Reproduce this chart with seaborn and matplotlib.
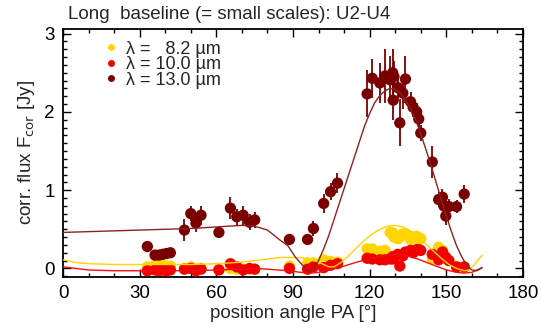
import matplotlib
matplotlib.use("Agg")
import matplotlib.pyplot as plt
from matplotlib.lines import Line2D
from matplotlib.ticker import MultipleLocator
import pandas as pd
import seaborn as sns

# measured position angles [deg]
pa = [33, 36, 37.5, 39, 40.5, 42, 47.5, 50, 52, 54, 61, 65.5, 68, 70.5, 73, 75,
      88.6, 95.7, 98, 102, 104.7, 107.4, 119, 121, 124, 126, 128, 129, 129.5,
      129.2, 131, 131.8, 133, 134, 136, 137, 138.4, 139.2, 140, 144.5, 147,
      148.5, 149, 149.8, 151, 154, 157]

# correlated fluxes [Jy]
f_082 = [0.02, 0.04, 0.05, 0.04, 0.03, 0.03, 0.00, 0.02, -0.01, 0.00, -0.01,
         0.00, -0.01, -0.01, -0.01, -0.01, 0.03, 0.07, 0.07, 0.11, 0.09, 0.08,
         0.25, 0.25, 0.22, 0.23, 0.46, 0.45, 0.40, 0.45, 0.38, 0.40, 0.44, 0.44,
         0.37, 0.40, 0.41, 0.37, 0.38, 0.12, 0.27, 0.23, 0.18, 0.12, 0.10, 0.02,
         0.01]
f_100 = [-0.03, -0.02, -0.03, -0.02, -0.03, -0.02, -0.01, 0.00, -0.03, -0.01,
         -0.02, 0.06, 0.02, -0.02, 0.00, -0.01, 0.00, -0.01, 0.02, 0.01, 0.04,
         0.06, 0.13, 0.12, 0.11, 0.11, 0.12, 0.15, 0.14, 0.12, 0.18, 0.03, 0.16,
         0.21, 0.23, 0.20, 0.24, 0.24, 0.23, 0.18, 0.11, 0.21, 0.16, 0.14, 0.10,
         0.02, 0.02]
f_130 = [0.28, 0.17, 0.17, 0.18, 0.19, 0.20, 0.49, 0.70, 0.58, 0.68, 0.46, 0.77,
         0.66, 0.68, 0.59, 0.62, 0.37, 0.37, 0.51, 0.83, 0.98, 1.09, 2.23, 2.43,
         2.37, 2.46, 2.41, 2.50, 2.45, 2.15, 2.31, 1.86, 2.24, 2.42, 2.13, 2.06,
         2.00, 1.91, 1.73, 1.36, 0.88, 0.91, 0.80, 0.67, 0.79, 0.79, 0.95]
e_130 = [0.03, 0.03, 0.03, 0.03, 0.03, 0.03, 0.14, 0.10, 0.12, 0.12, 0.07, 0.14,
         0.10, 0.12, 0.10, 0.10, 0.06, 0.06, 0.10, 0.12, 0.11, 0.13, 0.30, 0.25,
         0.25, 0.35, 0.30, 0.30, 0.20, 0.25, 0.15, 0.30, 0.20, 0.30, 0.12, 0.12,
         0.12, 0.12, 0.10, 0.20, 0.10, 0.10, 0.10, 0.12, 0.10, 0.08, 0.12]

# model curves
pa_mod_130 = [0, 10, 20, 30, 40, 50, 60, 70, 75, 80, 85, 88, 91, 94, 96, 98,
              100, 102, 104, 106, 108, 110, 112, 114, 116, 118, 120, 122, 124,
              126, 128, 130, 132, 134, 136, 138, 140, 142, 144, 146, 148, 150,
              152, 154, 156, 158, 160, 162, 164]
mod_130 = [0.46, 0.47, 0.48, 0.49, 0.50, 0.51, 0.53, 0.55, 0.54, 0.49, 0.36,
           0.29, 0.14, 0.03, -0.04, 0.00, 0.10, 0.25, 0.42, 0.62, 0.82, 1.02,
           1.22, 1.42, 1.62, 1.82, 1.98, 2.12, 2.21, 2.27, 2.30, 2.29, 2.24,
           2.15, 2.04, 1.90, 1.72, 1.52, 1.32, 1.10, 0.88, 0.67, 0.47, 0.29,
           0.15, 0.04, -0.02, -0.03, 0.01]
pa_mod_082 = [0, 3, 6, 10, 20, 30, 40, 50, 60, 70, 80, 85, 90, 95, 100, 104,
              106, 109, 112, 115, 118, 121, 124, 127, 130, 133, 136, 139, 142,
              145, 148, 151, 154, 157, 159, 161, 164]
mod_082 = [0.11, 0.09, 0.07, 0.06, 0.05, 0.05, 0.05, 0.05, 0.06, 0.08, 0.12,
           0.14, 0.14, 0.13, 0.08, 0.02, 0.02, 0.08, 0.17, 0.27, 0.36, 0.44,
           0.50, 0.54, 0.55, 0.53, 0.48, 0.40, 0.31, 0.22, 0.13, 0.05, 0.00,
           -0.03, -0.02, 0.05, 0.17]
pa_mod_100 = [0, 5, 10, 20, 30, 40, 50, 60, 70, 75, 80, 88, 93, 97, 100, 104,
              108, 112, 116, 120, 124, 128, 131, 134, 138, 142, 146, 150, 154,
              157, 160, 164]
mod_100 = [0.02, 0.00, -0.02, -0.03, -0.03, -0.03, -0.03, -0.02, -0.01, 0.00,
           -0.01, -0.03, -0.05, -0.06, -0.05, -0.02, 0.01, 0.05, 0.09, 0.12,
           0.15, 0.17, 0.18, 0.17, 0.13, 0.08, 0.03, -0.02, -0.05, -0.06, -0.05,
           0.01]

bands = ["8.2", "10.0", "13.0"]
colors = {"8.2": "#FFD400", "10.0": "#F00000", "13.0": "#7A0000"}
line_colors = {"8.2": "#FFD400", "10.0": "#F01010", "13.0": "#8E2222"}
labels = ["λ =   8.2 µm", "λ = 10.0 µm", "λ = 13.0 µm"]

pts = pd.DataFrame({
    "PA": pa * 3,
    "F": f_082 + f_100 + f_130,
    "band": ["8.2"] * len(pa) + ["10.0"] * len(pa) + ["13.0"] * len(pa),
})
models = pd.concat([
    pd.DataFrame({"PA": pa_mod_082, "F": mod_082, "band": "8.2"}),
    pd.DataFrame({"PA": pa_mod_100, "F": mod_100, "band": "10.0"}),
    pd.DataFrame({"PA": pa_mod_130, "F": mod_130, "band": "13.0"}),
])

sns.set_style("ticks")
plt.rcParams["font.family"] = ["Liberation Sans", "DejaVu Sans"]

fig, ax = plt.subplots(figsize=(5.41, 3.29), dpi=100)
fig.subplots_adjust(left=0.1165, right=0.9667, top=0.912, bottom=0.158)

ax.errorbar(pa, f_130, yerr=e_130, fmt="none", ecolor="#7A0000",
            elinewidth=1.3, capsize=0, zorder=2)
sns.scatterplot(data=pts, x="PA", y="F", hue="band", palette=colors,
                hue_order=bands, s=66, edgecolor="none", legend=False,
                ax=ax, zorder=3)
sns.lineplot(data=models, x="PA", y="F", hue="band", palette=line_colors,
             hue_order=bands, sort=False, estimator=None, linewidth=1.0,
             legend=False, ax=ax, zorder=4)

ax.set_xlim(0, 180)
ax.set_ylim(-0.11, 3.06)
ax.xaxis.set_major_locator(MultipleLocator(30))
ax.xaxis.set_minor_locator(MultipleLocator(10))
ax.yaxis.set_major_locator(MultipleLocator(1))
ax.yaxis.set_minor_locator(MultipleLocator(0.1))
ax.tick_params(which="both", direction="in", top=True, right=True,
               labelsize=13.5, width=1, colors="black")
ax.tick_params(which="major", length=6, pad=6)
ax.tick_params(which="minor", length=3)
for sp in ax.spines.values():
    sp.set_linewidth(1.3)
    sp.set_color("black")

ax.set_xlabel("position angle PA [°]", fontsize=13.5, labelpad=2)
ax.set_ylabel("corr. flux F$_{\\rm cor}$ [Jy]", fontsize=13.5, labelpad=5)
ax.set_title("Long  baseline (= small scales): U2-U4", fontsize=13.5,
             loc="left", pad=7, x=0.01)

handles = [Line2D([], [], marker="o", linestyle="none", markersize=5,
                  markerfacecolor=colors[b], markeredgecolor="none")
           for b in bands]
ax.legend(handles, labels, loc="upper left", bbox_to_anchor=(0.06, 1.0),
          frameon=False, fontsize=13, handletextpad=0.3, labelspacing=-0.08,
          handlelength=1.0, borderaxespad=0.25)

fig.savefig("out.png", dpi=100)
